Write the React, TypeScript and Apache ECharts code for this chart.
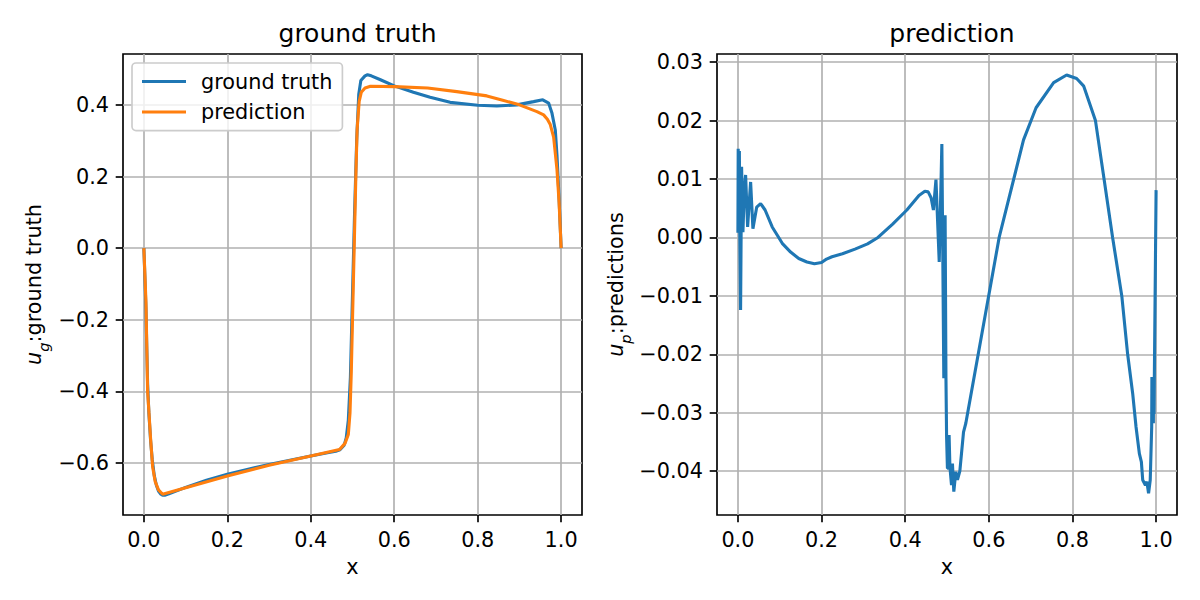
import { useEffect, useRef } from "react";
import * as echarts from "echarts";

// ---- left panel: ground truth vs prediction ----
const gtX = [
  0, 0.003, 0.005, 0.007, 0.009, 0.012, 0.016, 0.02, 0.025, 0.03, 0.035, 0.04, 0.045, 0.05,
  0.06, 0.08, 0.1, 0.15, 0.2, 0.25, 0.3, 0.35, 0.4, 0.44, 0.46, 0.47, 0.48, 0.485, 0.49,
  0.495, 0.5, 0.505, 0.51, 0.515, 0.52, 0.53, 0.536, 0.545, 0.567, 0.6, 0.646, 0.686, 0.734,
  0.8, 0.846, 0.894, 0.934, 0.956, 0.97, 0.978, 0.986, 0.99, 0.995, 1.0,
];
const gtY = [
  0, -0.1, -0.17, -0.28, -0.38, -0.46, -0.535, -0.59, -0.635, -0.662, -0.678, -0.686, -0.69, -0.69,
  -0.686, -0.677, -0.668, -0.648, -0.631, -0.617, -0.604, -0.592, -0.58, -0.571, -0.567, -0.563, -0.55, -0.53, -0.48,
  -0.36, -0.13, 0.1, 0.3, 0.43, 0.468, 0.481, 0.484, 0.481, 0.47, 0.453, 0.435, 0.421, 0.407,
  0.399, 0.397, 0.4, 0.409, 0.414, 0.405, 0.377, 0.33, 0.26, 0.14, 0.0,
];
const predX = [
  0, 0.005, 0.009, 0.016, 0.021, 0.027, 0.035, 0.045, 0.2, 0.3, 0.4, 0.469, 0.482, 0.49, 0.494,
  0.497, 0.5, 0.504, 0.508, 0.511, 0.516, 0.521, 0.53, 0.543, 0.6, 0.68, 0.75, 0.822, 0.86,
  0.9, 0.942, 0.958, 0.967, 0.974, 0.982, 0.99, 0.995, 1.0,
];
const predY = [
  0, -0.15, -0.4, -0.53, -0.61, -0.651, -0.675, -0.687, -0.636, -0.606, -0.58, -0.562, -0.545, -0.52, -0.46,
  -0.35, -0.2, 0.0, 0.2, 0.33, 0.41, 0.435, 0.447, 0.452, 0.451, 0.447, 0.437, 0.425, 0.413,
  0.4, 0.381, 0.372, 0.36, 0.345, 0.31, 0.22, 0.13, 0.0,
];

// ---- right panel: u_p ----
const errX = [
  0, 0.0007, 0.002, 0.0035, 0.0045, 0.0064, 0.0088, 0.012, 0.0155, 0.0184, 0.0232, 0.0304, 0.0359,
  0.045, 0.0543, 0.065, 0.082, 0.095, 0.106, 0.126, 0.1455, 0.165, 0.183, 0.2, 0.212, 0.225,
  0.25, 0.28, 0.31, 0.335, 0.37, 0.404, 0.433, 0.447, 0.455, 0.462, 0.4675, 0.4736, 0.4814,
  0.4877, 0.4924, 0.4955, 0.4975, 0.499, 0.501, 0.503, 0.505, 0.507, 0.5108, 0.513, 0.5163,
  0.521, 0.525, 0.5307, 0.5395, 0.545, 0.625, 0.683, 0.713, 0.755, 0.786, 0.81, 0.827, 0.855,
  0.876, 0.896, 0.918, 0.932, 0.944, 0.952, 0.96, 0.9648, 0.968, 0.9745, 0.978, 0.982, 0.986,
  0.9895, 0.99, 0.9935, 0.994, 0.995, 1.0,
];
const errY = [
  0.0008, 0.0152, 0.0012, 0.0148, 0.001, -0.0124, 0.0121, 0.0009, 0.0085, 0.0107, 0.0018, 0.0095, 0.0015,
  0.0052, 0.0058, 0.0047, 0.0018, 0.0003, -0.001, -0.0025, -0.0036, -0.0042, -0.0045, -0.0043, -0.0037, -0.0033,
  -0.0028, -0.002, -0.0011, 0.0, 0.0023, 0.0047, 0.0072, 0.0079, 0.0078, 0.0068, 0.0047, 0.0099, -0.0042,
  0.016, -0.0241, 0.0038, -0.024, -0.034, -0.0395, -0.0395, -0.0338, -0.0393, -0.0424, -0.0387, -0.0435,
  -0.0401, -0.0415, -0.04, -0.0333, -0.0318, 0.0001, 0.0167, 0.0222, 0.0265, 0.0278, 0.0272, 0.0259, 0.02,
  0.0098, 0.0, -0.01, -0.02, -0.0267, -0.0324, -0.037, -0.0384, -0.0415, -0.0424, -0.0418, -0.0438, -0.0415,
  -0.0324, -0.0239, -0.0318, -0.0239, -0.0302, 0.0081,
];

const xTicks = [0, 0.2, 0.4, 0.6, 0.8, 1.0];
const gtTicks = [-0.6, -0.4, -0.2, 0, 0.2, 0.4];
const errTicks = [-0.04, -0.03, -0.02, -0.01, 0, 0.01, 0.02, 0.03];

const FONT = "DejaVu Sans";
const BLUE = "#1f77b4";
const ORANGE = "#ff7f0e";
const FS = 20.8; // 10pt @150dpi
const LW = 1.67; // 0.8pt

const fmt = (d: number) => (v: number) => {
  const s = Math.abs(v).toFixed(d);
  return v < -1e-9 ? "\u2212" + s : s;
};

const zip = (xs: number[], ys: number[]) => xs.map((x, i) => [x, ys[i]]);

const tickStyle = { color: "#000", width: LW };
const gridStyle = { color: "#b0b0b0", width: LW };
const labelStyle = { fontFamily: FONT, fontSize: FS, color: "#000", margin: 14 };

function xAxisFor(gridIndex: number) {
  return {
    type: "value",
    gridIndex,
    min: -0.05,
    max: 1.05,
    name: "x",
    nameLocation: "middle",
    nameGap: 41,
    nameTextStyle: { fontFamily: FONT, fontSize: FS, color: "#000" },
    axisLine: { show: false, onZero: false },
    axisTick: { show: true, customValues: xTicks, length: 7.3, lineStyle: tickStyle },
    axisLabel: { ...labelStyle, customValues: xTicks, formatter: fmt(1) },
    splitLine: { show: true, lineStyle: gridStyle },
  };
}

const nameRich = {
  i: { fontFamily: FONT, fontStyle: "italic", fontSize: FS, color: "#000", verticalAlign: "top", lineHeight: 28 },
  s: { fontFamily: FONT, fontStyle: "italic", fontSize: 14.6, color: "#000", verticalAlign: "bottom", lineHeight: 28 },
  n: { fontFamily: FONT, fontSize: FS, color: "#000", verticalAlign: "top", lineHeight: 28 },
};

function yAxisFor(gridIndex: number, min: number, max: number, ticks: number[], digits: number, name: string, gap: number) {
  return {
    type: "value",
    gridIndex,
    min,
    max,
    name,
    nameLocation: "middle",
    nameRotate: 90,
    nameGap: gap,
    nameTextStyle: { rich: nameRich },
    axisLine: { show: false, onZero: false },
    axisTick: { show: true, customValues: ticks, length: 7.3, lineStyle: tickStyle },
    axisLabel: { ...labelStyle, customValues: ticks, formatter: fmt(digits) },
    splitLine: { show: true, lineStyle: gridStyle },
  };
}

export default function App() {
  const ref = useRef<HTMLDivElement | null>(null);

  useEffect(() => {
    if (!ref.current) return;
    const chart = echarts.init(ref.current, undefined, { renderer: "svg" });
    const titleStyle = { fontFamily: FONT, fontSize: 25, fontWeight: "normal", color: "#000" };
    chart.setOption({
      animation: false,
      backgroundColor: "#fff",
      title: [
        { text: "ground truth", left: 352.5, top: 16, textAlign: "center", textStyle: titleStyle },
        { text: "prediction", left: 947, top: 16, textAlign: "center", textStyle: titleStyle },
      ],
      legend: {
        data: [
          { name: "ground truth", icon: "rect" },
          { name: "prediction", icon: "rect" },
        ],
        orient: "vertical",
        left: 132,
        top: 63,
        itemWidth: 44,
        itemHeight: 3,
        itemGap: 8.6,
        padding: [7.5, 10, 7.5, 10],
        borderColor: "#cccccc",
        borderWidth: LW,
        borderRadius: 4,
        backgroundColor: "rgba(255,255,255,0.8)",
        textStyle: { fontFamily: FONT, fontSize: FS, color: "#000", lineHeight: 22, padding: [0, 0, 0, 10] },
      },
      grid: [
        { left: 123, top: 54, width: 459, height: 461, show: true, borderColor: "#000", borderWidth: LW, backgroundColor: "transparent" },
        { left: 717, top: 54, width: 460, height: 461, show: true, borderColor: "#000", borderWidth: LW, backgroundColor: "transparent" },
      ],
      xAxis: [xAxisFor(0), xAxisFor(1)],
      yAxis: [
        yAxisFor(0, -0.745, 0.542, gtTicks, 1, "{i|u}{s|g}{n|:ground truth}", 72),
        yAxisFor(1, -0.0475, 0.0314, errTicks, 2, "{i|u}{s|p}{n|:predictions}", 84),
      ],
      series: [
        {
          name: "ground truth",
          type: "line",
          xAxisIndex: 0,
          yAxisIndex: 0,
          data: zip(gtX, gtY),
          showSymbol: false,
          color: BLUE,
          lineStyle: { color: BLUE, width: 3.1 },
        },
        {
          name: "prediction",
          type: "line",
          xAxisIndex: 0,
          yAxisIndex: 0,
          data: zip(predX, predY),
          showSymbol: false,
          color: ORANGE,
          lineStyle: { color: ORANGE, width: 3.1 },
        },
        {
          name: "u_p",
          type: "line",
          xAxisIndex: 1,
          yAxisIndex: 1,
          data: zip(errX, errY),
          showSymbol: false,
          color: BLUE,
          lineStyle: { color: BLUE, width: 3.1 },
        },
      ],
    });
    return () => chart.dispose();
  }, []);

  return <div ref={ref} style={{ position: "absolute", left: 0, top: 0, width: 1200, height: 600 }} />;
}
